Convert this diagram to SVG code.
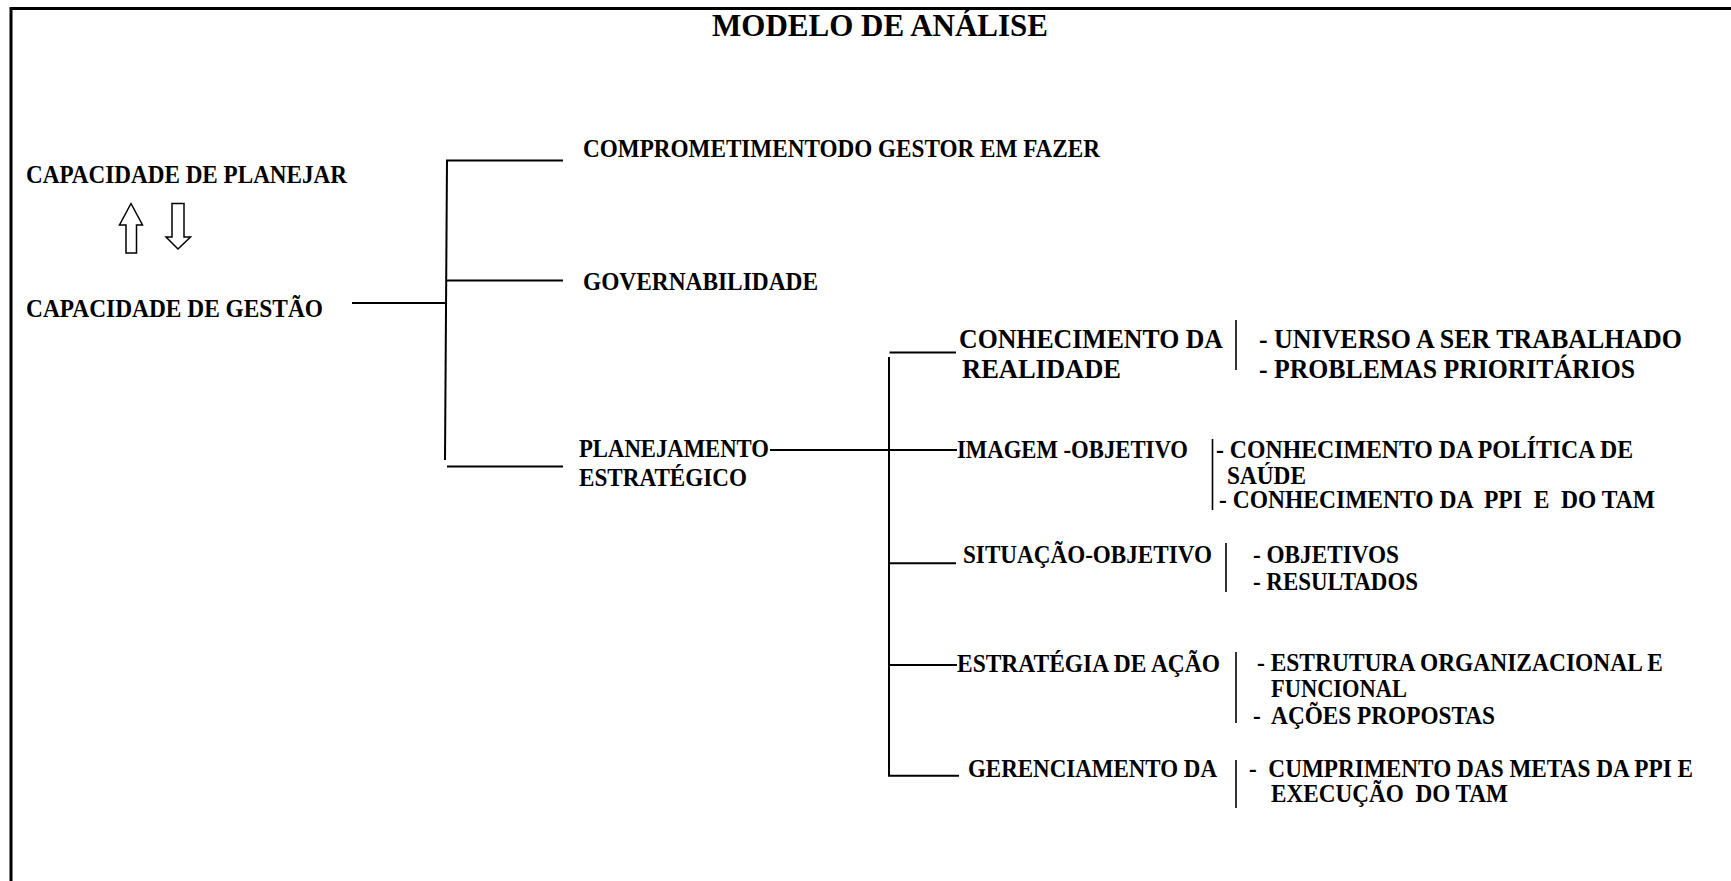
<svg xmlns="http://www.w3.org/2000/svg" width="1731" height="881" viewBox="0 0 1731 881">
<style>
  text { font-family: "Liberation Serif", "Times New Roman", serif; font-weight: bold; fill: #000; white-space: pre; }
  .t { font-size: 24.5px; }
  .b { font-size: 27px; }
  .title { font-size: 31px; }
  .ln { stroke: #000; stroke-width: 2; fill: none; }
  .sep { stroke: #000; stroke-width: 1.6; fill: none; }
  .frame { stroke: #000; stroke-width: 3; fill: none; }
  .arrow { stroke: #000; stroke-width: 1.5; fill: #fff; stroke-linejoin: miter; }
</style>
<rect x="0" y="0" width="1731" height="881" fill="#fff"/>
<g id="frame">
  <path class="frame" d="M11 881 V8.5 H1731"/>
</g>
<g id="title">
  <text class="title" x="880" y="36" text-anchor="middle">MODELO DE ANÁLISE</text>
</g>
<g id="capacidade-planejar">
  <text class="t" x="26" y="183" textLength="321" lengthAdjust="spacingAndGlyphs">CAPACIDADE DE PLANEJAR</text>
</g>
<g id="arrows-updown">
  <polygon class="arrow" points="131,203.5 142.5,225 136.5,225 136.5,253 126,253 126,225 119.5,225"/>
  <polygon class="arrow" points="172,203.5 184,203.5 184,237 190.5,237 178,249 166,237 172,237"/>
</g>
<g id="capacidade-gestao">
  <text class="t" x="26" y="317" textLength="297" lengthAdjust="spacingAndGlyphs">CAPACIDADE DE GESTÃO</text>
</g>
<g id="comprometimento">
  <text class="t" x="583" y="157" textLength="517" lengthAdjust="spacingAndGlyphs">COMPROMETIMENTODO GESTOR EM FAZER</text>
</g>
<g id="governabilidade">
  <text class="t" x="583" y="290" textLength="235" lengthAdjust="spacingAndGlyphs">GOVERNABILIDADE</text>
</g>
<g id="planejamento">
  <text class="t" x="579" y="457" textLength="190" lengthAdjust="spacingAndGlyphs">PLANEJAMENTO</text>
  <text class="t" x="579" y="486" textLength="168" lengthAdjust="spacingAndGlyphs">ESTRATÉGICO</text>
</g>
<g id="conhecimento-realidade">
  <text class="b" x="959" y="348" textLength="264" lengthAdjust="spacingAndGlyphs">CONHECIMENTO DA</text>
  <text class="b" x="962" y="378" textLength="159" lengthAdjust="spacingAndGlyphs">REALIDADE</text>
  <line class="sep" x1="1236" y1="320" x2="1236" y2="370"/>
  <text class="b" x="1259" y="347.5" textLength="423" lengthAdjust="spacingAndGlyphs">- UNIVERSO A SER TRABALHADO</text>
  <text class="b" x="1259" y="377.5" textLength="376" lengthAdjust="spacingAndGlyphs">- PROBLEMAS PRIORITÁRIOS</text>
</g>
<g id="imagem-objetivo">
  <text class="t" x="957" y="457.5" textLength="231" lengthAdjust="spacingAndGlyphs">IMAGEM -OBJETIVO</text>
  <line class="sep" x1="1212.5" y1="439" x2="1212.5" y2="510"/>
  <text class="t" x="1216" y="457.5" textLength="417" lengthAdjust="spacingAndGlyphs">- CONHECIMENTO DA POLÍTICA DE</text>
  <text class="t" x="1227" y="484" textLength="79" lengthAdjust="spacingAndGlyphs">SAÚDE</text>
  <text class="t" x="1219" y="508" textLength="436" lengthAdjust="spacingAndGlyphs">- CONHECIMENTO DA  PPI  E  DO TAM</text>
</g>
<g id="situacao-objetivo">
  <text class="t" x="963" y="563" textLength="249" lengthAdjust="spacingAndGlyphs">SITUAÇÃO-OBJETIVO</text>
  <line class="sep" x1="1226" y1="543" x2="1226" y2="592"/>
  <text class="t" x="1253" y="562.5" textLength="146" lengthAdjust="spacingAndGlyphs">- OBJETIVOS</text>
  <text class="t" x="1253" y="590" textLength="165" lengthAdjust="spacingAndGlyphs">- RESULTADOS</text>
</g>
<g id="estrategia-acao">
  <text class="t" x="957" y="671.5" textLength="263" lengthAdjust="spacingAndGlyphs">ESTRATÉGIA DE AÇÃO</text>
  <line class="sep" x1="1236" y1="652" x2="1236" y2="723"/>
  <text class="t" x="1257" y="670.5" textLength="406" lengthAdjust="spacingAndGlyphs">- ESTRUTURA ORGANIZACIONAL E</text>
  <text class="t" x="1271" y="696.5" textLength="136" lengthAdjust="spacingAndGlyphs">FUNCIONAL</text>
  <text class="t" x="1253" y="724" textLength="242" lengthAdjust="spacingAndGlyphs">-  AÇÕES PROPOSTAS</text>
</g>
<g id="gerenciamento">
  <text class="t" x="968" y="776.5" textLength="249" lengthAdjust="spacingAndGlyphs">GERENCIAMENTO DA</text>
  <line class="sep" x1="1236" y1="760" x2="1236" y2="808"/>
  <text class="t" x="1249" y="776.5" textLength="444" lengthAdjust="spacingAndGlyphs">-  CUMPRIMENTO DAS METAS DA PPI E</text>
  <text class="t" x="1271" y="801.5" textLength="237" lengthAdjust="spacingAndGlyphs">EXECUÇÃO  DO TAM</text>
</g>
<g id="connectors">
  <line class="ln" x1="352" y1="303" x2="447" y2="303"/>
  <line class="ln" x1="447" y1="160" x2="445" y2="460"/>
  <line class="ln" x1="446" y1="160.5" x2="563" y2="160.5"/>
  <line class="ln" x1="446" y1="280.5" x2="563" y2="280.5"/>
  <line class="ln" x1="447" y1="466.5" x2="563" y2="466.5"/>
  <line class="ln" x1="770" y1="450" x2="957" y2="450"/>
  <line class="ln" x1="889.5" y1="352.5" x2="956" y2="352.5"/>
  <path class="ln" d="M889 357 V775.7 H959"/>
  <line class="ln" x1="889" y1="563.3" x2="956" y2="563.3"/>
  <line class="ln" x1="889" y1="665" x2="957" y2="665"/>
</g>
</svg>
